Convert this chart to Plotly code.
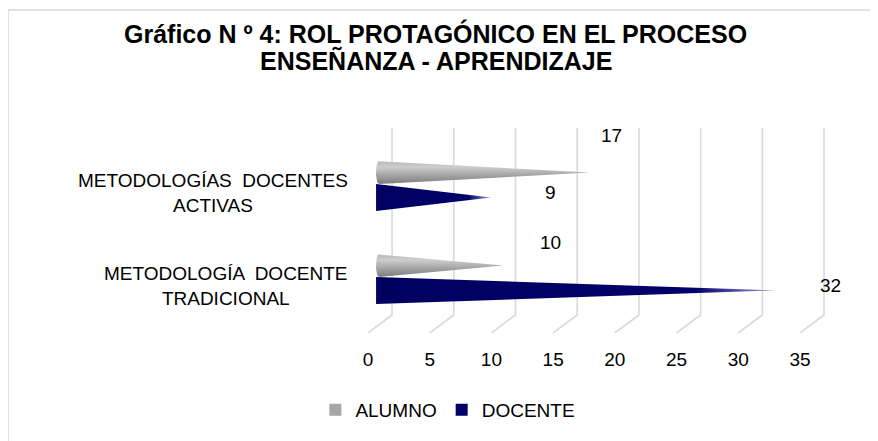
import numpy as np
import plotly.graph_objects as go

# ---------------- data ----------------
categories = ["METODOLOGÍA  DOCENTE<br>TRADICIONAL", "METODOLOGÍAS  DOCENTES<br>ACTIVAS"]
series_names = ["ALUMNO", "DOCENTE"]
alumno = [10, 17]
docente = [32, 9]
x_ticks = [0, 5, 10, 15, 20, 25, 30, 35]
title_lines = ["Gráfico N º 4: ROL PROTAGÓNICO EN EL PROCESO", "ENSEÑANZA - APRENDIZAJE"]

# ---------------- style ----------------
FONT = "Liberation Sans, Arial, sans-serif"
GRAY = "#a6a6a6"
NAVY = "#000066"
GRID = "#d9d9d9"
DEPTH = 1.95          # 3D depth of the back wall, in x units
MID = DEPTH / 2
WALL_TOP = 1.613
FLOOR_BACK = -0.398
FLOOR_FRONT = -0.591
OFFS = {"ALUMNO": 0.134, "DOCENTE": -0.134}
HALF = {"ALUMNO": 0.124, "DOCENTE": 0.145}
# pixel shifts of data labels (Excel 3D label placement)
label_shift = {("ALUMNO", 0): (47, 23), ("ALUMNO", 1): (22, 37),
               ("DOCENTE", 0): (55, 5), ("DOCENTE", 1): (59, 5)}

fig = go.Figure()

# 3D grid (back wall lines + floor diagonals)
gx, gy = [], []
for t in x_ticks:
    gx += [t + DEPTH, t + DEPTH, t, None]
    gy += [WALL_TOP, FLOOR_BACK, FLOOR_FRONT, None]
fig.add_trace(go.Scatter(x=gx, y=gy, mode="lines", line=dict(color=GRID, width=1.6),
                         hoverinfo="skip", showlegend=False))

def cone(value, yc, h, rounded):
    tip = value + MID
    if rounded:
        base = MID - 0.08
        th = np.linspace(np.pi / 2, 3 * np.pi / 2, 25)
        ex = list(base + 0.25 * np.cos(th))
        ey = list(yc + h * np.sin(th))
        xs = [tip] + ex + [tip]
        ys = [yc] + ey + [yc]
    else:
        base = MID - 0.32
        xs = [tip, base, base, tip]
        ys = [yc, yc + h, yc - h, yc]
    return xs, ys

annotations = []
for name, vals in (("DOCENTE", docente), ("ALUMNO", alumno)):
    for i, v in enumerate(vals):
        yc = i + OFFS[name]
        xs, ys = cone(v, yc, HALF[name], name == "ALUMNO")
        if name == "ALUMNO":
            grad = dict(type="vertical",
                        colorscale=[[0, "#7d7d7d"], [0.35, "#a0a0a0"], [0.75, "#cdcdcd"], [1, "#b8b8b8"]])
        else:
            grad = dict(type="horizontal",
                        colorscale=[[0, "#000060"], [0.8, "#00006a"], [1, "#9a9ad8"]])
        fig.add_trace(go.Scatter(x=xs, y=ys, mode="lines", fill="toself",
                                 line=dict(width=0), fillgradient=grad,
                                 hoverinfo="skip", showlegend=False))
        dx, dy = label_shift[(name, i)]
        annotations.append(dict(x=v + MID, y=yc, xref="x", yref="y", text=str(v),
                                showarrow=False, xshift=dx, yshift=dy,
                                font=dict(family=FONT, size=19, color="black")))

# legend entries
for name, col in zip(series_names, [GRAY, NAVY]):
    fig.add_trace(go.Scatter(x=[None], y=[None], mode="markers", name=name,
                             marker=dict(symbol="square", size=12, color=col)))

# category labels
for i, c in enumerate(categories):
    annotations.append(dict(x=-0.02, y=i, xref="paper", yref="y", text=c, showarrow=False,
                            xanchor="right", yanchor="middle", align="center", yshift=-8,
                            font=dict(family=FONT, size=19, color="black")))

# title (two lines)
for line, ty in zip(title_lines, [1.3407, 1.2212]):
    annotations.append(dict(x=0.1526, y=ty, xref="paper", yref="paper", text="<b>" + line + "</b>",
                            showarrow=False, xanchor="center", yanchor="middle",
                            font=dict(family=FONT, size=25, color="black")))

fig.update_layout(
    width=878, height=441,
    margin=dict(l=352, r=28, t=102, b=113),
    paper_bgcolor="white", plot_bgcolor="white",
    xaxis=dict(range=[-0.648, 39.70], tickvals=x_ticks, showgrid=False, zeroline=False,
               showline=False, ticks="", ticklabelstandoff=10,
               tickfont=dict(family=FONT, size=19, color="black")),
    yaxis=dict(range=[-0.6237, 1.806], visible=False),
    legend=dict(orientation="h", xref="container", yref="container", x=0.501, y=0.0884,
                xanchor="center", yanchor="middle", font=dict(family=FONT, size=19, color="black"),
                itemwidth=30, tracegroupgap=0),
    annotations=annotations,
    shapes=[
        dict(type="line", xref="paper", yref="paper", x0=-0.7068, x1=-0.7068, y0=1.4425, y1=-0.6,
             line=dict(color=GRID, width=1.5)),
        dict(type="line", xref="paper", yref="paper", x0=-0.7068, x1=1.2, y0=1.4425, y1=1.4425,
             line=dict(color=GRID, width=1.5)),
    ],
)

fig.write_html("out.html")
